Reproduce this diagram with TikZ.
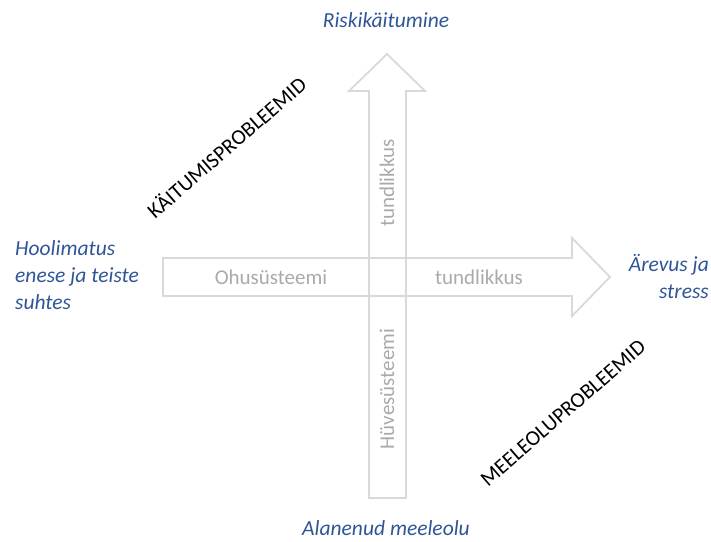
\documentclass[tikz,border=0pt]{standalone}
\usepackage{fontspec}
\setmainfont{Carlito}
\usetikzlibrary{positioning}

\definecolor{axisline}{RGB}{217,217,217}
\definecolor{axistext}{RGB}{170,170,170}
\definecolor{poleblue}{RGB}{47,85,151}

\begin{document}
\begin{tikzpicture}[x=1pt, y=-1pt]

   \tikzstyle{axis}=[draw=axisline, line width=1.8pt, line join=miter]
   \tikzstyle{inaxis}=[text=axistext, font=\fontsize{21}{25}\selectfont, inner sep=0pt]
   \tikzstyle{pole}=[text=poleblue, font=\fontsize{21.5}{27}\selectfont\itshape, inner sep=0pt]
   \tikzstyle{quad}=[text=black, font=\fontsize{21.5}{25}\selectfont, inner sep=0pt, rotate=41]

   \useasboundingbox (0,0) rectangle (711,541);

   % block arrows
   \draw[axis] (369,498) -- (369,91) -- (349,91) -- (387,54) -- (425,91) -- (406,91) -- (406,498) -- cycle;
   \draw[axis] (163,258) -- (572,258) -- (572,238) -- (610,277) -- (572,316) -- (572,296) -- (163,296) -- cycle;

   \node[inaxis] (ohu) at (271,277) {Ohusüsteemi};
   \node[inaxis] (tundh) at (479,277) {tundlikkus};
   \node[inaxis, rotate=90] (tundv) at (387,183) {tundlikkus};
   \node[inaxis, rotate=90] (huve) at (387,389) {Hüvesüsteemi};

   % poles
   \node[pole] (risk) at (386,20) {Riskikäitumine};
   \node[pole] (alan) at (386,528) {Alanenud meeleolu};
   \node[pole, anchor=west, align=left] (hool) at (15,275) {Hoolimatus\\enese ja teiste\\suhtes};
   \node[pole, anchor=east, align=right] (arev) at (709,276) {Ärevus ja\\stress};

   % quadrants
   \node[quad] (kait) at (226,147) {KÄITUMISPROBLEEMID};
   \node[quad] (meel) at (563,413) {MEELEOLUPROBLEEMID};

\end{tikzpicture}
\end{document}
